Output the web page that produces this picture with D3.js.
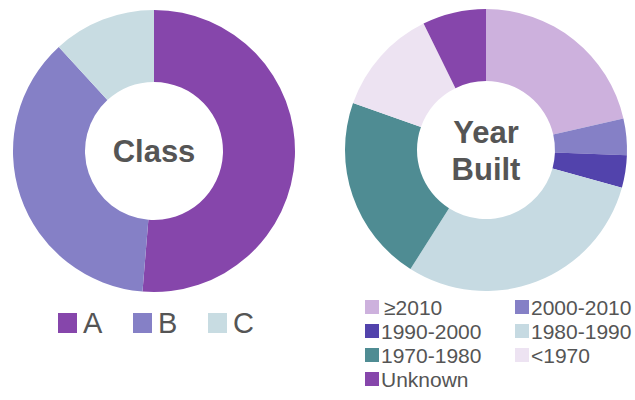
<!DOCTYPE html>
<html>
<head>
<meta charset="utf-8">
<script src="https://cdn.jsdelivr.net/npm/d3@7"></script>
<style>
  body { margin: 0; background: #fff; }
  svg text { font-family: "Liberation Sans", Arial, sans-serif; fill: #555; }
</style>
</head>
<body>
<div id="chart"></div>
<script>
// class shares (%)
let classLabels = ["A", "B", "C"];
let classValues = [51.3, 36.9, 11.8];
let classColours = ["#8646ab", "#8580c6", "#c8dce2"];

// year built shares (%)
let yearLabels = ["\u22652010", "2000-2010", "1990-2000", "1980-1990", "1970-1980", "<1970", "Unknown"];
let yearValues = [21.4, 4.2, 3.7, 29.7, 21.4, 12.3, 7.3];
let yearColours = ["#cdb1dd", "#8580c6", "#5243ac", "#c6dae2", "#4f8c93", "#ede3f2", "#8646ab"];

const width = 635;
const height = 400;
const outerR = 141;
const innerR = 69;

var svg = d3.select("#chart")
    .append("svg")
    .attr("width", width)
    .attr("height", height);

var pie = d3.pie().sort(null).value(d => d.value);
var arc = d3.arc().innerRadius(innerR).outerRadius(outerR);

function drawDonut(cx, cy, labels, values, colours, titleLines) {
    let data = labels.map((l, i) => ({ label: l, value: values[i], colour: colours[i] }));
    let g = svg.append("g").attr("transform", `translate(${cx},${cy})`);

    g.selectAll("path")
        .data(pie(data))
        .enter().append("path")
        .attr("d", arc)
        .attr("fill", d => d.data.colour);

    let lineH = 37;
    let firstBase = 11 - (titleLines.length - 1) * lineH / 2;
    g.selectAll("text.title")
        .data(titleLines)
        .enter().append("text")
        .attr("class", "title")
        .attr("text-anchor", "middle")
        .attr("x", 0)
        .attr("y", (d, i) => firstBase + i * lineH)
        .attr("font-size", 31)
        .attr("font-weight", "bold")
        .text(d => d);
}

drawDonut(154, 151, classLabels, classValues, classColours, ["Class"]);
drawDonut(486, 150, yearLabels, yearValues, yearColours, ["Year", "Built"]);

// legend for class
var classLegend = svg.append("g");
var classItem = classLegend.selectAll("g")
    .data(classLabels)
    .enter().append("g")
    .attr("transform", (d, i) => `translate(${58 + i * 75},313)`);
classItem.append("rect")
    .attr("width", 19)
    .attr("height", 20)
    .attr("fill", (d, i) => classColours[i]);
classItem.append("text")
    .attr("x", 25)
    .attr("y", 20)
    .attr("font-size", 29)
    .text(d => d);

// legend for year built, two columns
var yearLegend = svg.append("g");
var yearItem = yearLegend.selectAll("g")
    .data(yearLabels)
    .enter().append("g")
    .attr("transform", (d, i) => `translate(${i % 2 === 0 ? 365 : 515},${300 + Math.floor(i / 2) * 24})`);
yearItem.append("rect")
    .attr("width", 14)
    .attr("height", 14)
    .attr("fill", (d, i) => yearColours[i]);
yearItem.append("text")
    .attr("x", (d, i) => i === 0 ? 19 : 16)
    .attr("y", 14.5)
    .attr("font-size", 21)
    .text(d => d);
</script>
</body>
</html>
